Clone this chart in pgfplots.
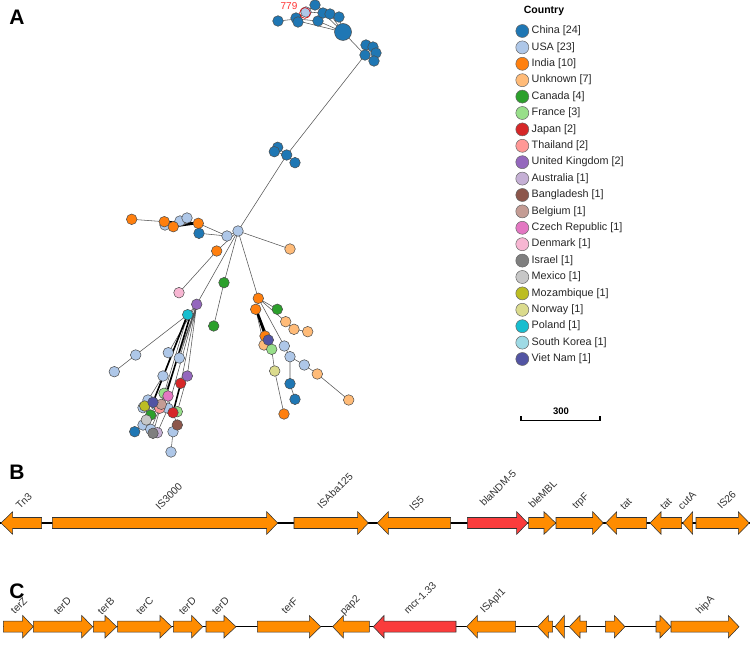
\documentclass[border=0pt]{standalone}
\usepackage{pgfplots}
\pgfplotsset{compat=1.18}
\usepackage{fontspec}
\setmainfont{Liberation Sans}
\definecolor{cChina}{HTML}{1F77B4}
\definecolor{cUSA}{HTML}{AEC7E8}
\definecolor{cIndia}{HTML}{FF7F0E}
\definecolor{cUnk}{HTML}{FFBB78}
\definecolor{cCan}{HTML}{2CA02C}
\definecolor{cFra}{HTML}{98DF8A}
\definecolor{cJap}{HTML}{D62728}
\definecolor{cTha}{HTML}{FF9896}
\definecolor{cUK}{HTML}{9467BD}
\definecolor{cAus}{HTML}{C5B0D5}
\definecolor{cBan}{HTML}{8C564B}
\definecolor{cBel}{HTML}{C49C94}
\definecolor{cCze}{HTML}{E377C2}
\definecolor{cDen}{HTML}{F7B6D2}
\definecolor{cIsr}{HTML}{7F7F7F}
\definecolor{cMex}{HTML}{C7C7C7}
\definecolor{cMoz}{HTML}{BCBD22}
\definecolor{cNor}{HTML}{DBDB8D}
\definecolor{cPol}{HTML}{17BECF}
\definecolor{cSK}{HTML}{9EDAE5}
\definecolor{cVN}{HTML}{5254A3}
\definecolor{gOr}{HTML}{FF8C00}
\definecolor{gRed}{HTML}{FA3C3C}
\definecolor{edge}{HTML}{555555}
\newcommand{\nodes}[3]{\addplot[only marks, mark=*, mark size=#2, mark options={fill=#1, draw=black!70, line width=0.5pt}] coordinates {#3};}
\newcommand{\legentry}[3]{\addplot[only marks, mark=*, mark size=6.5, mark options={fill=#1, draw=black!60, line width=0.5pt}] coordinates {(522.3,#2)};
\node[anchor=west, font=\fontsize{10.8}{12}\selectfont, text=black!85, inner sep=0pt] at (axis cs:531.5,#2) {#3};}
% panel B genes
\newcommand{\gRB}[4]{\addplot[fill=#4, draw=black!80, line width=0.55pt] coordinates {(#1,517.5)(#2,517.5)(#2,511.7)(#3,523)(#2,534.3)(#2,528.5)(#1,528.5)} -- cycle;}
\newcommand{\gLB}[4]{\addplot[fill=#4, draw=black!80, line width=0.55pt] coordinates {(#3,517.5)(#2,517.5)(#2,511.7)(#1,523)(#2,534.3)(#2,528.5)(#3,528.5)} -- cycle;}
% panel C genes
\newcommand{\gRC}[4]{\addplot[fill=#4, draw=black!80, line width=0.55pt] coordinates {(#1,621.2)(#2,621.2)(#2,615.5)(#3,626.7)(#2,637.9)(#2,632.2)(#1,632.2)} -- cycle;}
\newcommand{\gLC}[4]{\addplot[fill=#4, draw=black!80, line width=0.55pt] coordinates {(#3,621.2)(#2,621.2)(#2,615.5)(#1,626.7)(#2,637.9)(#2,632.2)(#3,632.2)} -- cycle;}
\newcommand{\glab}[3]{\node[rotate=45, font=\fontsize{10.3}{11}\selectfont, text=black!80, inner sep=0pt] at (axis cs:#1,#2) {#3};}
\begin{document}
\begin{tikzpicture}
\begin{axis}[x=1pt, y=1pt, xmin=0, xmax=750, ymin=0, ymax=652, y dir=reverse,
  hide axis, clip=false, enlargelimits=false, unbounded coords=jump,
  anchor=south west, at={(0,0)}]
% ---------- edges ----------
\addplot[edge, line width=0.55pt] coordinates {
(278,21)(297,19) (nan,nan)
(297,19)(306,12) (nan,nan)
(297,19)(318,21) (nan,nan)
(298,21)(343,32) (nan,nan)
(306,12)(315,5) (nan,nan)
(306,12)(323,13) (nan,nan)
(315,5)(330,14) (nan,nan)
(318,21)(343,32) (nan,nan)
(323,13)(343,32) (nan,nan)
(330,14)(343,32) (nan,nan)
(339,17)(343,32) (nan,nan)
(343,32)(365,55) (nan,nan)
(365,55)(366,45) (nan,nan)
(366,45)(373,47) (nan,nan)
(373,47)(376,53) (nan,nan)
(366,45)(376,53) (nan,nan)
(365,55)(374,61) (nan,nan)
(374,61)(376,53) (nan,nan)
(365,55)(286.7,155) (nan,nan)
(286.7,155)(277.7,147.3) (nan,nan)
(286.7,155)(274.3,151.7) (nan,nan)
(286.7,155)(295,162.7) (nan,nan)
(286.7,155)(238,231) (nan,nan)
(238,231)(227,236) (nan,nan)
(227,236)(199,233.3) (nan,nan)
(227,236)(198.3,223.3) (nan,nan)
(164.3,221.7)(131.7,219.3) (nan,nan)
(238,231)(216.7,251) (nan,nan)
(216.7,251)(179,292.7) (nan,nan)
(238,231)(196.7,304.3) (nan,nan)
(238,231)(224,282.7) (nan,nan)
(224,282.7)(213.7,326) (nan,nan)
(238,231)(258.3,298.3) (nan,nan)
(238,231)(290,249) (nan,nan)
(196.7,304.3)(187.7,314.7) (nan,nan)
(187.7,314.7)(135.7,355) (nan,nan)
(135.7,355)(114.3,371.7) (nan,nan)
(196.7,304.3)(168.3,352.7) (nan,nan)
(196.7,304.3)(179.3,358) (nan,nan)
(196.7,304.3)(187.3,376) (nan,nan)
(196.7,304.3)(180.7,383.3) (nan,nan)
(196.7,304.3)(161.3,404.3) (nan,nan)
(196.7,304.3)(168,408.3) (nan,nan)
(187.7,314.7)(163,376) (nan,nan)
(187.7,314.7)(153,402.3) (nan,nan)
(187.7,314.7)(159.7,408.3) (nan,nan)
(187.3,376)(177.3,411.7) (nan,nan)
(163,376)(148,400) (nan,nan)
(148,400)(143,407.7) (nan,nan)
(148,400)(150.7,415) (nan,nan)
(150.7,415)(146.3,420) (nan,nan)
(146.3,420)(143,425) (nan,nan)
(143,425)(134.7,431.7) (nan,nan)
(161.3,404.3)(153,433.3) (nan,nan)
(159.7,408.3)(150.7,429.3) (nan,nan)
(168,408.3)(157.3,432.7) (nan,nan)
(173,412.7)(177.3,425) (nan,nan)
(177.3,425)(173,431.7) (nan,nan)
(173,431.7)(171,452) (nan,nan)
(164,393.3)(161.3,404.3) (nan,nan)
(168,396)(168,408.3) (nan,nan)
(258.3,298.3)(255.7,309.3) (nan,nan)
(258.3,298.3)(277.3,309.3) (nan,nan)
(258.3,298.3)(285.7,321.7) (nan,nan)
(285.7,321.7)(294,329.3) (nan,nan)
(294,329.3)(307.7,331.7) (nan,nan)
(258.3,298.3)(284.3,346) (nan,nan)
(284.3,346)(290,356.7) (nan,nan)
(290,356.7)(304.3,365) (nan,nan)
(304.3,365)(317.3,374) (nan,nan)
(317.3,374)(348.7,400) (nan,nan)
(290,356.7)(290,383.7) (nan,nan)
(290,383.7)(295,399.3) (nan,nan)
(255.7,309.3)(264,345) (nan,nan)
(255.7,309.3)(271.7,349.3) (nan,nan)
(271.7,349.3)(274.7,371) (nan,nan)
(274.7,371)(284,414)
};
\addplot[black, line width=1.6pt] coordinates {
(164.3,221.7)(198.3,223.3) (nan,nan)
(173.3,226.7)(198.3,223.3) (nan,nan)
(186.7,316.7)(153,402.3) (nan,nan)
(190,316.7)(166,395) (nan,nan)
(180.7,383.3)(173,412.7) (nan,nan)
(255.7,309.3)(265,336) (nan,nan)
(256.5,309.3)(268.3,340)
};
% ---------- tree nodes ----------
\nodes{cChina}{8.5}{(343,32)}
\nodes{cChina}{5.3}{(278,21)(296,18)(298,22)(315,5)(318,21)(323,13)(330,14)(339,17)(366,45)(373,47)(376,53)(365,55)(374,61)(277.7,147.3)(274.3,151.7)(286.7,155)(295,162.7)(199,233.3)(134.7,431.7)(290,383.7)(295,399.3)}
\nodes{cUSA}{5.3}{(306,12)(165,225)(180,221)(187,218)(227,236)(238,231)(135.7,355)(114.3,371.7)(168.3,352.7)(179.3,358)(163,376)(148,400)(143,407.7)(168,408.3)(143,425)(150.7,429.3)(173,431.7)(171,452)(284.3,346)(290,356.7)(304.3,365)}
\nodes{cIndia}{5.3}{(131.7,219.3)(164.3,221.7)(173.3,226.7)(198.3,223.3)(216.7,251)(258.3,298.3)(255.7,309.3)(265,336)(284,414)}
\nodes{cUnk}{5.3}{(290,249)(285.7,321.7)(294,329.3)(307.7,331.7)(264,345)(317.3,374)(348.7,400)}
\nodes{cCan}{5.3}{(224,282.7)(213.7,326)(277.3,309.3)(150.7,415)}
\nodes{cSK}{5.3}{(156,405)}
\nodes{cFra}{5.3}{(164,393.3)(177.3,411.7)(271.7,349.3)}
\nodes{cJap}{5.3}{(180.7,383.3)(173,412.7)}
\nodes{cTha}{5.3}{(159.7,408.3)}
\nodes{cUK}{5.3}{(196.7,304.3)(187.3,376)}
\nodes{cAus}{5.3}{(157.3,432.7)}
\nodes{cBan}{5.3}{(177.3,425)}
\nodes{cBel}{5.3}{(161.3,404.3)}
\nodes{cCze}{5.3}{(168,396)}
\nodes{cDen}{5.3}{(179,292.7)}
\nodes{cIsr}{5.3}{(153,433.3)}
\nodes{cMex}{5.3}{(146.3,420)}
\nodes{cMoz}{5.3}{(144.7,406)}
\nodes{cNor}{5.3}{(274.7,371)}
\nodes{cPol}{5.3}{(187.7,314.7)}
\nodes{cVN}{5.3}{(153,402.3)(268.3,340)}
\addplot[only marks, mark=o, mark size=5.4, mark options={draw=red!85!black, line width=0.6pt}] coordinates {(305,13)};
\node[font=\fontsize{10}{12}\selectfont, text=red!80!white] at (axis cs:289,6.5) {779};
% ---------- legend ----------
\node[font=\bfseries\fontsize{10.5}{12}\selectfont] at (axis cs:544,10.5) {Country};
\legentry{cChina}{31}{China [24]}
\legentry{cUSA}{47.4}{USA [23]}
\legentry{cIndia}{63.8}{India [10]}
\legentry{cUnk}{80.2}{Unknown [7]}
\legentry{cCan}{96.6}{Canada [4]}
\legentry{cFra}{113}{France [3]}
\legentry{cJap}{129.4}{Japan [2]}
\legentry{cTha}{145.8}{Thailand [2]}
\legentry{cUK}{162.2}{United Kingdom [2]}
\legentry{cAus}{178.6}{Australia [1]}
\legentry{cBan}{195}{Bangladesh [1]}
\legentry{cBel}{211.4}{Belgium [1]}
\legentry{cCze}{227.8}{Czech Republic [1]}
\legentry{cDen}{244.2}{Denmark [1]}
\legentry{cIsr}{260.6}{Israel [1]}
\legentry{cMex}{277}{Mexico [1]}
\legentry{cMoz}{293.4}{Mozambique [1]}
\legentry{cNor}{309.8}{Norway [1]}
\legentry{cPol}{326.2}{Poland [1]}
\legentry{cSK}{342.6}{South Korea [1]}
\legentry{cVN}{359}{Viet Nam [1]}
% scale bar
\addplot[black, line width=1.2pt] coordinates {(521,416.5)(521,420.5)(600,420.5)(600,416.5)};
\node[font=\bfseries\fontsize{9.5}{11}\selectfont] at (axis cs:561,411.5) {300};
% ---------- panel letters ----------
\node[font=\bfseries\fontsize{21}{21}\selectfont] at (axis cs:17,17) {A};
\node[font=\bfseries\fontsize{21}{21}\selectfont] at (axis cs:17,472) {B};
\node[font=\bfseries\fontsize{21}{21}\selectfont] at (axis cs:17,591) {C};
% ---------- panel B ----------
\addplot[black, line width=1.2pt] coordinates {(0,523)(750,523)};
\gLB{1}{12.7}{41.7}{gOr}
\gRB{52.3}{266.7}{277.7}{gOr}
\gRB{294}{357.7}{368.3}{gOr}
\gLB{377.3}{388.3}{450.7}{gOr}
\gRB{467.3}{516.7}{527.7}{gRed}
\gRB{528.7}{544}{555.7}{gOr}
\gRB{556}{592.7}{603.3}{gOr}
\gLB{605.7}{616.7}{646.7}{gOr}
\gLB{650}{661}{681.7}{gOr}
\gLB{682.7}{692.7}{692.7}{gOr}
\gRB{696}{738.3}{749.3}{gOr}
\glab{24}{501}{Tn3}
\glab{169}{496}{IS3000}
\glab{335}{491}{ISAba125}
\glab{416.7}{503.5}{IS5}
\glab{498}{488}{blaNDM-5}
\glab{542.7}{494}{bleMBL}
\glab{581}{501.7}{trpF}
\glab{626}{504}{tat}
\glab{666}{504}{tat}
\glab{687}{500.7}{cutA}
\glab{726.7}{500}{IS26}
% ---------- panel C ----------
\addplot[black, line width=1.2pt] coordinates {(3,626.7)(739,626.7)};
\gRC{3.3}{22.7}{33.3}{gOr}
\gRC{33.3}{81.7}{92.7}{gOr}
\gRC{93.3}{105}{116.7}{gOr}
\gRC{117.7}{160}{171.7}{gOr}
\gRC{173.3}{191.7}{202.7}{gOr}
\gRC{206}{224}{236}{gOr}
\gRC{257.3}{309.3}{320.7}{gOr}
\gLC{332.7}{343.3}{369.3}{gOr}
\gLC{373.3}{384}{456}{gRed}
\gLC{466.7}{477.3}{515.7}{gOr}
\gLC{537.7}{548.3}{552.7}{gOr}
\gLC{555}{564.3}{564.3}{gOr}
\gLC{569.3}{580}{586.7}{gOr}
\gRC{605.3}{614.3}{625}{gOr}
\gRC{656}{660}{671}{gOr}
\gRC{671}{728.3}{739}{gOr}
\glab{19}{606}{terZ}
\glab{62.5}{606}{terD}
\glab{106}{606}{terB}
\glab{144.7}{606}{terC}
\glab{187.5}{606}{terD}
\glab{220.5}{606}{terD}
\glab{289.7}{606}{terF}
\glab{350.5}{606}{pap2}
\glab{420}{598}{mcr-1.33}
\glab{493.3}{601.3}{ISApl1}
\glab{705.5}{605.5}{hipA}
\end{axis}
\pgfresetboundingbox
\path[use as bounding box] (0,0) rectangle (750pt,652pt);
\end{tikzpicture}
\end{document}
